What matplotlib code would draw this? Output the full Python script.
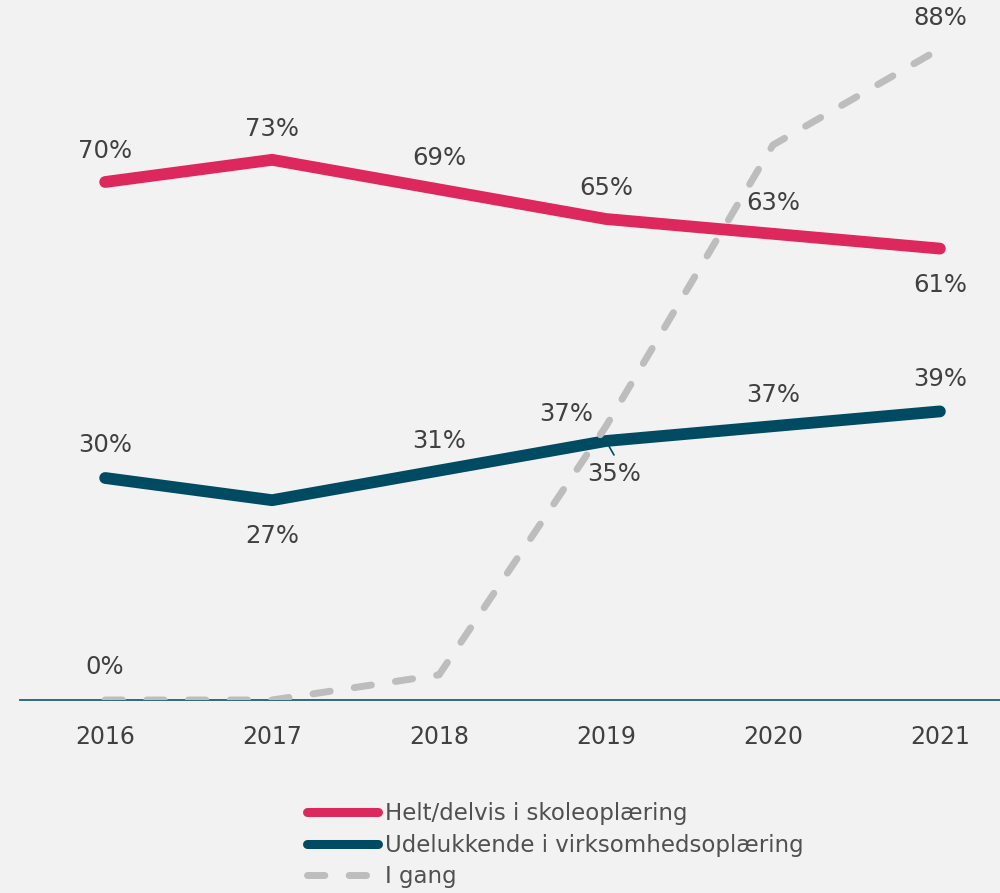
import matplotlib.pyplot as plt

# data
years = [2016, 2017, 2018, 2019, 2020, 2021]
skole = [70, 73, 69, 65, 63, 61]
virksomhed = [30, 27, 31, 35, 37, 39]
i_gang = [0, 0, 3.4, 37, 75, 88]

skole_lbl = ['70%', '73%', '69%', '65%', '63%', '61%']
virk_lbl = ['30%', '27%', '31%', '35%', '37%', '39%']
gang_lbl = {2016: '0%', 2019: '37%', 2021: '88%'}

pink = '#dd285d'
dark = '#004b61'
grey = '#bdbdbd'
txt = '#404040'
bg = '#f2f2f2'

fig = plt.figure(figsize=(10, 8.93), dpi=100, facecolor=bg)
ax = fig.add_axes([0.02, 193 / 893, 0.98, 94 * 7.4 / 893])
ax.set_facecolor(bg)

ax.plot(years, skole, color=pink, lw=8.5, solid_capstyle='round', solid_joinstyle='round',
        label='Helt/delvis i skoleoplæring', zorder=3)
ax.plot(years, virksomhed, color=dark, lw=8.5, solid_capstyle='round', solid_joinstyle='round',
        label='Udelukkende i virksomhedsoplæring', zorder=3)
ax.plot(years, i_gang, color=grey, lw=5, dashes=(2.5, 3.5), dash_capstyle='round',
        label='I gang', zorder=4)

ax.set_xlim(2015.49, 2021.36)
ax.set_ylim(0, 94)
for s in ['top', 'right', 'left']:
    ax.spines[s].set_visible(False)
ax.spines['bottom'].set_color('#1f5f73')
ax.spines['bottom'].set_linewidth(1.3)
ax.spines['bottom'].set_zorder(2)
ax.set_yticks([])
ax.set_xticks(years)
ax.tick_params(axis='x', length=0, pad=18, labelsize=17, labelcolor=txt)

fs = 17.5
# pink labels (61% below)
for i, (y, v, l) in enumerate(zip(years, skole, skole_lbl)):
    off = -36 if y == 2021 else 31
    ax.annotate(l, (y, v), xytext=(0, off), textcoords='offset pixels',
                ha='center', va='center', fontsize=fs, color=txt)

# dark labels
virk_off = {2016: (0, 33), 2017: (0, -36), 2018: (0, 30), 2019: (8, -33), 2020: (0, 31), 2021: (0, 32)}
for y, v, l in zip(years, virksomhed, virk_lbl):
    dx, dy = virk_off[y]
    ax.annotate(l, (y, v), xytext=(dx, dy), textcoords='offset pixels',
                ha='center', va='center', fontsize=fs, color=txt)
# leader line for 35%
ax.annotate('', (years[3], virksomhed[3]), xytext=(8, -14), textcoords='offset pixels',
            arrowprops=dict(arrowstyle='-', color=dark, lw=1.2, shrinkA=0, shrinkB=4))

# grey labels
gang_off = {2016: (0, 33), 2019: (-40, 12), 2021: (0, 31)}
for y, l in gang_lbl.items():
    v = i_gang[years.index(y)]
    dx, dy = gang_off[y]
    ax.annotate(l, (y, v), xytext=(dx, dy), textcoords='offset pixels',
                ha='center', va='center', fontsize=fs, color=txt, annotation_clip=False)

leg = fig.legend(loc='upper left', bbox_to_anchor=(0.307, 0.1015), frameon=False,
                 fontsize=16.5, handlelength=3.1, handletextpad=0.3, labelspacing=0.37,
                 borderaxespad=0, borderpad=0)
for t in leg.get_texts():
    t.set_color('#505050')
lines = leg.get_lines()
lines[0].set_linewidth(6.5)
lines[1].set_linewidth(6.5)

plt.savefig('out.png', dpi=100, facecolor=bg)
